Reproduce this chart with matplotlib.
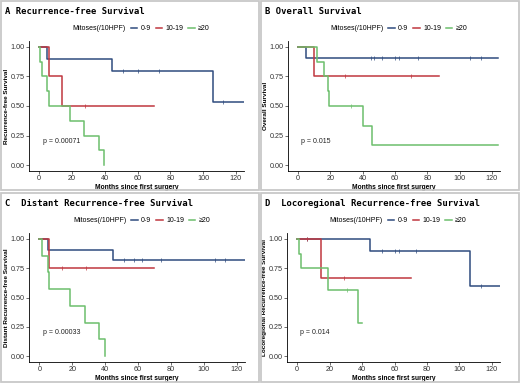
import matplotlib
matplotlib.use("Agg")
import matplotlib.pyplot as plt
from matplotlib.lines import Line2D
from matplotlib.patches import Rectangle

plt.rcParams['font.family'] = ['Liberation Sans', 'DejaVu Sans']

groups = ["0-9", "10-19", "\u226520"]
colors = ["#2f4c7e", "#c0373f", "#6cbf6c"]

titles = ["A Recurrence-free Survival", "B Overall Survival",
          "C  Distant Recurrence-free Survival",
          "D  Locoregional Recurrence-free Survival"]
ylabels = ["Recurrence-free Survival", "Overall Survival",
           "Distant Recurrence-free Survival",
           "Locoregional Recurrence-free Survival"]
pvals = ["p = 0.00071", "p = 0.015", "p = 0.00033", "p = 0.014"]

# per panel, per group: drop times, survival after drop, end time, censor times
a_times = [[0, 5, 44.5, 106], [0, 6, 14], [0, 0.6, 1.8, 4.5, 5.7, 18.8, 27.6, 36.3, 39.6]]
a_surv = [[1, 0.9, 0.8, 0.533], [1, 0.75, 0.5], [1, 0.875, 0.75, 0.625, 0.5, 0.375, 0.25, 0.125, 0]]
a_end = [125, 70, 39.6]
a_cens = [[51, 60, 73, 112], [28], []]

b_times = [[0, 5], [0, 10], [0, 12, 16, 18.4, 19, 40, 46]]
b_surv = [[1, 0.909], [1, 0.75], [1, 0.875, 0.75, 0.625, 0.5, 0.333, 0.167]]
b_end = [124, 87, 124]
b_cens = [[45, 47, 52, 60, 62.5, 74, 106.5, 113.5], [29, 70], [33]]

c_times = [[0, 5, 45], [0, 6], [0, 1.8, 5.1, 6.1, 18.7, 27.8, 36.3, 40]]
c_surv = [[1, 0.909, 0.818], [1, 0.75], [1, 0.857, 0.714, 0.571, 0.429, 0.286, 0.143, 0]]
c_end = [125, 70, 40]
c_cens = [[51.5, 57.6, 62.5, 74, 106.5, 113], [13.6, 28.4], []]

d_times = [[0, 45, 106.5], [0, 14.5], [0, 1.2, 2.2, 19.2, 37.2]]
d_surv = [[1, 0.9, 0.6], [1, 0.667], [1, 0.875, 0.75, 0.5625, 0.281]]
d_end = [125, 70, 40]
d_cens = [[6, 52, 60.5, 62.5, 73, 113], [6, 29], [31]]

panels = [(a_times, a_surv, a_end, a_cens), (b_times, b_surv, b_end, b_cens),
          (c_times, c_surv, c_end, c_cens), (d_times, d_surv, d_end, d_cens)]

W, H = 520, 384
fig = plt.figure(figsize=(W / 100, H / 100), dpi=100)

# panel origin (px), axes box in panel-local px: left, top, right, bottom
origins = [(0, 0), (260, 0), (0, 192), (260, 192)]
boxes = [(29, 41, 244, 171), (28, 41, 240, 171), (29, 41, 245, 170), (27, 41, 240, 170)]

for i in range(4):
    ox, oy = origins[i]
    # panel frame
    fig.patches.append(Rectangle(((ox + 1) / W, 1 - (oy + 190) / H), 258 / W, 189 / H,
                                 transform=fig.transFigure, fill=False,
                                 edgecolor="#c8c8c8", lw=1.3))
    fig.text((ox + 5) / W, 1 - (oy + 11) / H, titles[i], fontsize=6.4,
             fontweight="bold", family="DejaVu Sans Mono", va="center", ha="left")

    l, t, r, b = boxes[i]
    ax = fig.add_axes([(ox + l) / W, 1 - (oy + b) / H, (r - l) / W, (b - t) / H])
    times, surv, ends, cens = panels[i]
    handles = []
    for g in range(3):
        x = times[g] + [ends[g]]
        y = surv[g] + [surv[g][-1]]
        ax.step(x, y, where="post", color=colors[g], lw=1.1)
        # censor marks
        cy = []
        for c in cens[g]:
            k = 0
            for j in range(len(times[g])):
                if times[g][j] <= c:
                    k = j
            cy.append(surv[g][k])
        ax.plot(cens[g], cy, "|", color=colors[g], ms=2.2, mew=0.5)
        handles.append(Line2D([], [], color=colors[g], lw=1.1))

    ax.set_xlim(-6.25, 125)
    ax.set_ylim(-0.05, 1.05)
    ax.set_xticks([0, 20, 40, 60, 80, 100, 120])
    ax.set_yticks([0, 0.25, 0.5, 0.75, 1.0])
    ax.set_yticklabels(["0.00", "0.25", "0.50", "0.75", "1.00"])
    for s in ["top", "right"]:
        ax.spines[s].set_visible(False)
    for s in ["left", "bottom"]:
        ax.spines[s].set_linewidth(0.6)
    ax.tick_params(labelsize=5.2, length=2, width=0.5, pad=1.2, colors="#333333")
    ax.set_xlabel("Months since first surgery", fontsize=4.8, fontweight="bold", labelpad=1)
    ax.set_ylabel(ylabels[i], fontsize=4.6, fontweight="bold", labelpad=0.8)
    ax.text(2, 0.2, pvals[i], fontsize=5.0, ha="left", va="center", color="#222222")

    leg_h = [Line2D([], [], alpha=0)] + handles
    leg_l = ["Mitoses(/10HPF)"] + groups
    ax.legend(leg_h, leg_l, ncol=4, loc="center", bbox_to_anchor=(0.5, (b - 29) / (b - t)),
              frameon=False, fontsize=5.0, handlelength=0.9, handletextpad=0.5,
              columnspacing=0.7, borderaxespad=0)

fig.savefig("out.png", dpi=100)
